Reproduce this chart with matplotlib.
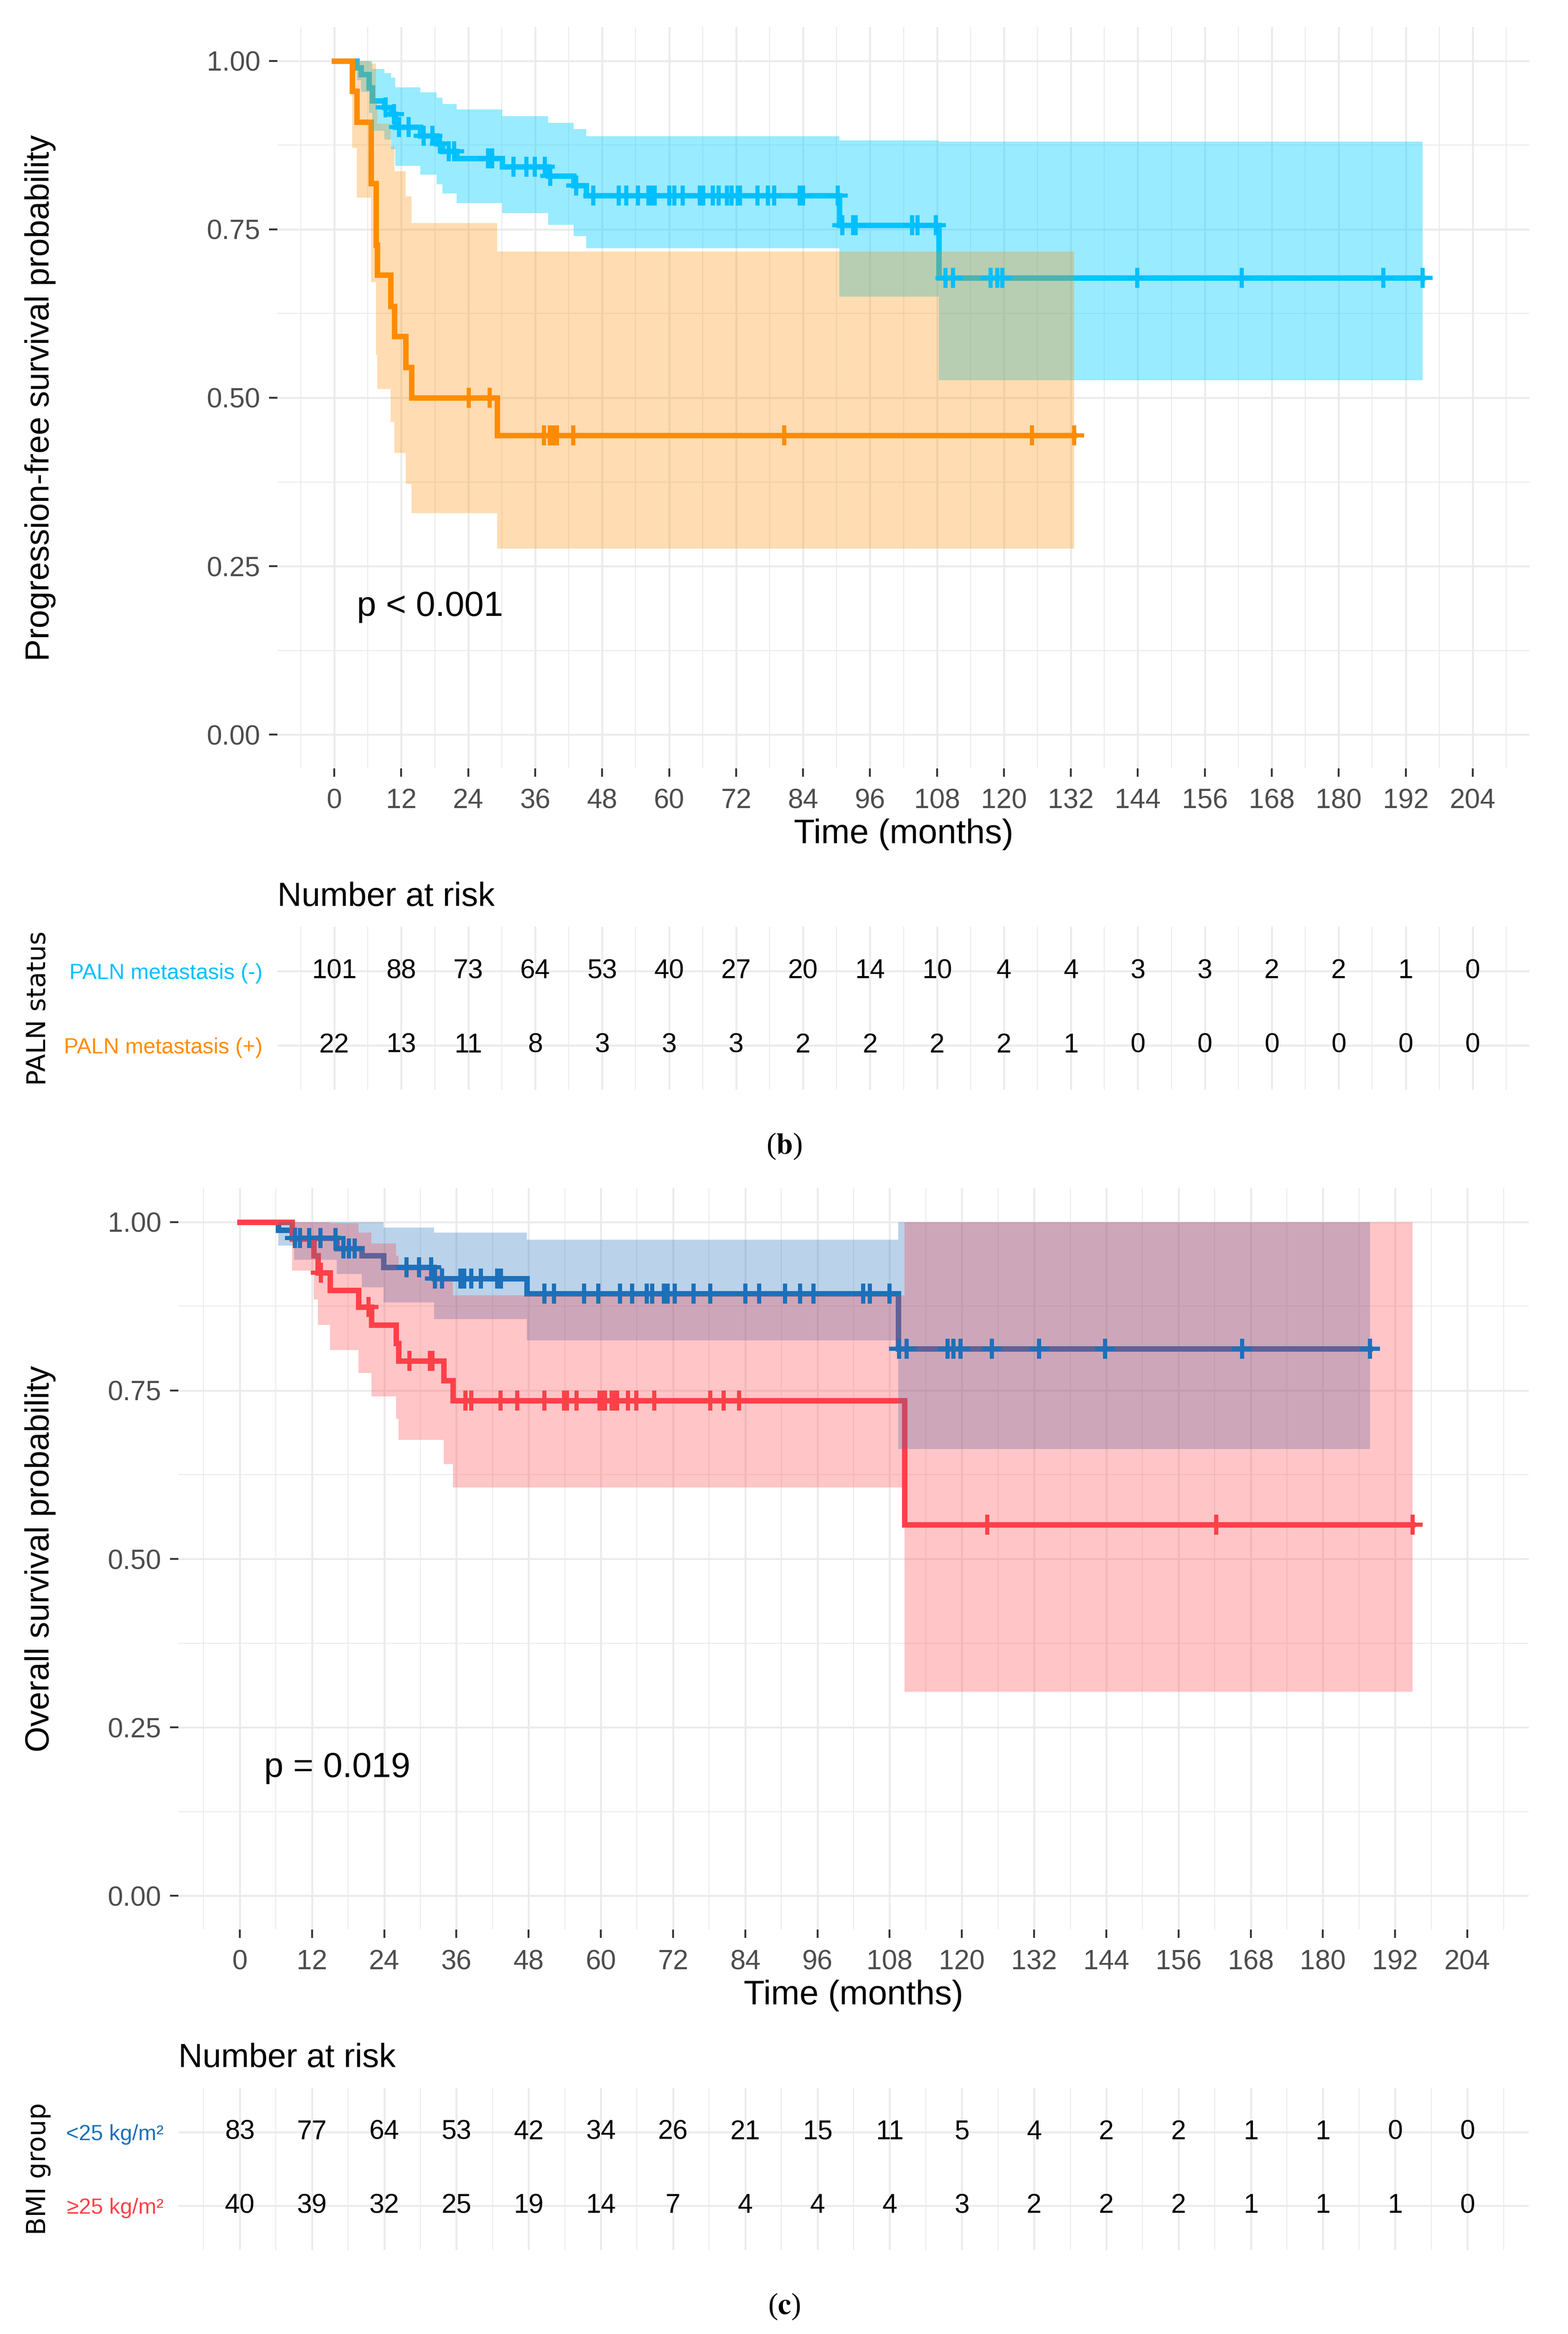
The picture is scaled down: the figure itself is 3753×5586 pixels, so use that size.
import numpy as np
import matplotlib
matplotlib.use("Agg")
import matplotlib.pyplot as plt
from matplotlib.ticker import MultipleLocator, FixedLocator

plt.rcParams['font.family'] = ['Liberation Sans', 'DejaVu Sans']
plt.rcParams['mathtext.fontset'] = 'stix'

# ---- panel (b): progression-free survival by PALN status ----
neg_t = [0, 4.0, 4.8, 6.2, 6.8, 9.0, 10.2, 10.9, 15.4, 18.3, 19.4, 21.9, 30.1, 38.3, 42.9, 45.1, 90.5, 108.3]
neg_s = [1.0, .990, .980, .960, .941, .931, .921, .902, .889, .877, .866, .855, .843, .829, .815, .800, .756, .678]
neg_up = [1.0, 1.0, 1.0, .999, .988, .982, .975, .961, .953, .945, .936, .928, .918, .908, .899, .888, .882, .880]
neg_lo = [1.0, .971, .954, .923, .896, .883, .869, .844, .831, .817, .803, .789, .774, .757, .740, .722, .650, .526]
neg_end = 195.0
neg_cens = [9.2, 10.7, 11.6, 13.3, 16.0, 17.6, 18.9, 20.5, 21.5, 27.5, 28.3, 32.1, 34.4, 35.9, 37.7,
            38.7, 43.3, 46.4, 51.0, 52.3, 54.4, 56.3, 56.9, 57.4, 60.0, 60.9, 62.4, 65.5, 66.1, 67.8,
            68.9, 70.4, 71.2, 72.3, 72.7, 75.8, 77.7, 78.8, 83.4, 84.0, 90.2, 91.0, 93.0, 93.4, 103.5,
            104.5, 107.8, 109.5, 110.9, 117.6, 118.8, 119.7, 143.9, 162.6, 188.0, 195.0]

pos_t = [0, 3.2, 4.0, 6.6, 7.5, 7.7, 10.1, 10.8, 12.8, 13.8, 29.2]
pos_s = [1.0, .955, .909, .818, .727, .682, .636, .591, .545, .500, .444]
pos_up = [1.0, 1.0, 1.0, .996, .939, .907, .873, .836, .799, .759, .717]
pos_lo = [1.0, .871, .797, .672, .563, .513, .464, .418, .372, .329, .276]
pos_end = 132.6
pos_cens = [24.1, 27.8, 37.6, 38.6, 39.2, 39.9, 42.8, 80.6, 125.0, 132.6]

# ---- panel (c): overall survival by BMI group ----
bl_t = [0, 6.4, 9.0, 16.1, 20.3, 23.9, 32.3, 47.7, 109.4]
bl_s = [1.0, .988, .976, .961, .950, .933, .916, .894, .812]
bl_up = [1.0, 1.0, 1.0, 1.0, 1.0, .992, .984, .974, 1.0]
bl_lo = [1.0, .965, .944, .923, .903, .881, .856, .824, .663]
bl_end = 187.8
bl_cens = [9.2, 10.0, 11.5, 13.4, 15.9, 17.2, 18.1, 19.1, 27.7, 29.8, 31.8, 32.4, 33.6, 36.7, 37.3,
           38.5, 40.1, 42.8, 43.4, 50.6, 52.2, 57.2, 59.6, 63.2, 65.2, 67.6, 68.5, 70.5, 71.1, 72.3,
           75.4, 78.2, 84.0, 86.3, 90.6, 93.1, 95.3, 103.6, 104.7, 108.0, 109.6, 110.8, 117.6, 118.6,
           119.8, 125.0, 132.8, 143.8, 166.6, 187.8]

rd_t = [0, 8.7, 12.3, 13.0, 15.0, 19.7, 21.9, 26.0, 26.4, 33.9, 35.4, 110.5]
rd_s = [1.0, .975, .950, .925, .899, .874, .847, .820, .794, .765, .735, .551]
rd_up = [1.0, 1.0, 1.0, 1.0, .998, .984, .968, .950, .932, .913, .891, 1.0]
rd_lo = [1.0, .928, .885, .847, .810, .776, .741, .708, .677, .641, .606, .303]
rd_end = 194.9
rd_cens = [13.5, 21.4, 28.2, 31.6, 32.0, 37.5, 38.5, 43.3, 46.1, 50.6, 53.9, 54.4, 56.0, 59.8, 60.2,
           60.7, 61.8, 62.1, 62.7, 64.5, 65.9, 68.9, 78.2, 80.4, 83.0, 124.2, 162.3, 194.9]

# ---- number at risk ----
risk_times = list(range(0, 205, 12))
neg_risk = [101, 88, 73, 64, 53, 40, 27, 20, 14, 10, 4, 4, 3, 3, 2, 2, 1, 0]
pos_risk = [22, 13, 11, 8, 3, 3, 3, 2, 2, 2, 2, 1, 0, 0, 0, 0, 0, 0]
bl_risk = [83, 77, 64, 53, 42, 34, 26, 21, 15, 11, 5, 4, 2, 2, 1, 1, 0, 0]
rd_risk = [40, 39, 32, 25, 19, 14, 7, 4, 4, 4, 3, 2, 2, 2, 1, 1, 1, 0]

W, H = 3753, 5586
fig = plt.figure(figsize=(W / 300, H / 300), dpi=300)
GRID = '#EBEBEB'


def px(x0, y0, x1, y1):
    # pixel box -> figure fractions
    return [x0 / W, 1 - y1 / H, (x1 - x0) / W, (y1 - y0) / H]


def style_grid(ax):
    ax.set_facecolor('white')
    for s in ax.spines.values():
        s.set_visible(False)
    ax.set_xlim(-10.2, 214.2)
    ax.xaxis.set_major_locator(MultipleLocator(12))
    ax.xaxis.set_minor_locator(FixedLocator(np.arange(-6, 214, 12)))
    ax.grid(which='major', color=GRID, lw=1.1, zorder=0)
    ax.grid(which='minor', axis='x', color=GRID, lw=0.55, zorder=0)
    ax.set_axisbelow(True)


def km_panel(box, groups, ylabel, ptext):
    ax = fig.add_axes(px(*box))
    style_grid(ax)
    ax.set_ylim(-0.05, 1.05)
    ax.set_yticks([0, .25, .5, .75, 1.0])
    ax.yaxis.set_minor_locator(FixedLocator([.125, .375, .625, .875]))
    ax.grid(which='minor', axis='y', color=GRID, lw=0.55, zorder=0)
    ax.set_yticklabels(['0.00', '0.25', '0.50', '0.75', '1.00'])
    ax.tick_params(which='major', length=4.8, width=1.07, color='#333333',
                   labelcolor='#4D4D4D', labelsize=15.8, pad=5)
    ax.tick_params(axis='x', which='major', pad=6.5)
    ax.tick_params(which='minor', length=0)
    # curves first, then ribbons on top, then censor marks (ggplot layer order)
    for t, s, lo, up, end, cens, col, fcol, fa in groups:
        x = t + [end]
        ax.step(x, s + [s[-1]], where='post', color=col, lw=3.15, zorder=2,
                solid_joinstyle='miter')
    for t, s, lo, up, end, cens, col, fcol, fa in groups:
        x = t + [end]
        ax.fill_between(x, lo + [lo[-1]], up + [up[-1]], step='post',
                        color=fcol, alpha=fa, lw=0, zorder=3)
    for t, s, lo, up, end, cens, col, fcol, fa in groups:
        idx = np.searchsorted(t, cens, side='right') - 1
        ax.plot(cens, np.array(s)[idx], ls='none', marker='+', ms=11.5, mew=2.4,
                color=col, zorder=4)
    ax.text(4, 0.19, ptext, fontsize=20, ha='left', va='center', zorder=5)
    cy = 1 - (box[1] + box[3]) / 2 / H
    fig.text(97 / W, cy, ylabel, rotation=90, ha='center', va='center', fontsize=19)
    fig.text((box[0] + box[2]) / 2 / W, 1 - (box[3] + 158) / H, 'Time (months)',
             ha='center', va='center', fontsize=19.7)
    return ax


def risk_table(box, rows, title, name):
    ax = fig.add_axes(px(*box))
    style_grid(ax)
    ax.set_ylim(0.4, 2.6)
    ax.set_yticks([1, 2])
    ax.set_yticklabels([r[0] for r in rows])
    for lab, r in zip(ax.get_yticklabels(), rows):
        lab.set_color(r[2])
    ax.tick_params(axis='y', length=0, labelsize=12.5, pad=8.6)
    ax.tick_params(axis='x', which='both', length=0, labelbottom=False)
    for yv, r in zip([1, 2], rows):
        for tt, n in zip(risk_times, r[1]):
            ax.text(tt, yv, str(n), ha='center', va='center', fontsize=15.5, color='black')
    fig.text(box[0] / W, 1 - (box[1] - 50) / H, title, ha='left', va='baseline', fontsize=19.2)
    fig.text(92 / W, 1 - (box[1] + box[3]) / 2 / H, name, rotation=90, ha='center',
             va='center', fontsize=15, family=['DejaVu Sans'])
    return ax


# panel (b)
km_panel((664, 65, 3661, 1839),
         [(neg_t, neg_s, neg_lo, neg_up, neg_end, neg_cens, '#00BFFF', '#00CFFF', 0.4),
          (pos_t, pos_s, pos_lo, pos_up, pos_end, pos_cens, '#FF8C00', '#FF8C00', 0.3)],
         'Progression-free survival probability', 'p < 0.001')
risk_table((664, 2218, 3661, 2608),
           [('PALN metastasis (+)', pos_risk, '#FF8C00'),
            ('PALN metastasis (-)', neg_risk, '#00BFFF')],
           'Number at risk', 'PALN status')
fig.text(0.5, 1 - 2743 / H, r'($\mathbf{b}$)', ha='center', va='center', fontsize=17,
         family=['Liberation Serif'])

# panel (c)
km_panel((427, 2844, 3659, 4618),
         [(bl_t, bl_s, bl_lo, bl_up, bl_end, bl_cens, '#1C70BA', '#1C70BA', 0.3),
          (rd_t, rd_s, rd_lo, rd_up, rd_end, rd_cens, '#FF4048', '#FF4048', 0.3)],
         'Overall survival probability', 'p = 0.019')
risk_table((427, 4997, 3659, 5385),
           [('\u226525 kg/m\u00b2', rd_risk, '#FF4048'),
            ('<25 kg/m\u00b2', bl_risk, '#1C70BA')],
           'Number at risk', 'BMI group')
fig.text(0.5, 1 - 5520 / H, r'($\mathbf{c}$)', ha='center', va='center', fontsize=17,
         family=['Liberation Serif'])

fig.savefig('out.png', dpi=300, facecolor='white')
